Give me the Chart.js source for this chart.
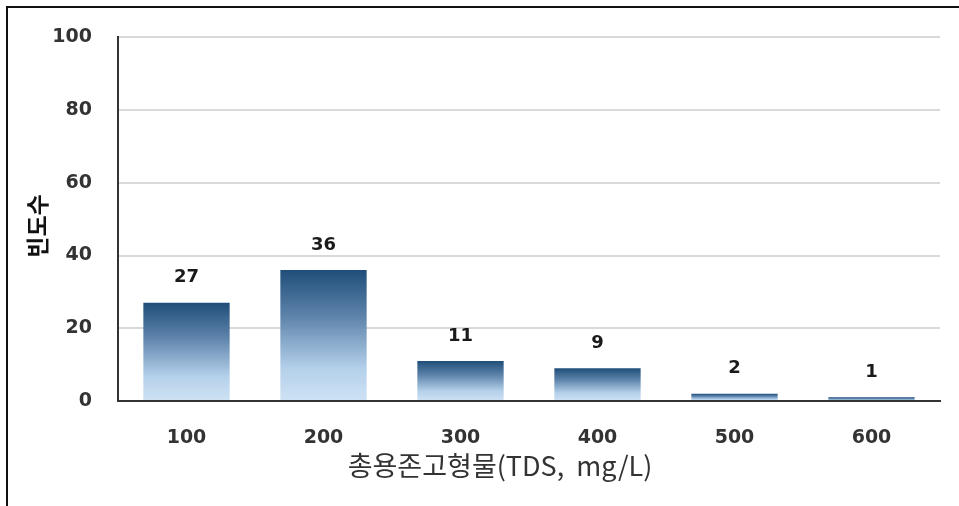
<!DOCTYPE html>
<html>
<head>
<meta charset="utf-8">
<script src="https://cdn.jsdelivr.net/npm/chart.js@4.4.1/dist/chart.umd.min.js"></script>
<style>
  html, body { margin:0; padding:0; background:#fff; }
  #wrap { position:relative; width:959px; height:506px; overflow:hidden; }
  #frame { position:absolute; left:6px; top:6px; width:1000px; height:600px;
           border-top:2px solid #111; border-left:2px solid #111; pointer-events:none; }
</style>
</head>
<body>
<div id="wrap">
  <canvas id="c" width="959" height="506"></canvas>
  <div id="frame"></div>
</div>
<script>
// data
const categories = ['100', '200', '300', '400', '500', '600'];
const counts = [27, 36, 11, 9, 2, 1];
const yTicks = [0, 20, 40, 60, 80, 100];
const xTitle = '총용존고형물(TDS,  mg/L)';
const yTitle = '빈도수';

const tickFont = { family: 'DejaVu Sans', size: 19, weight: 'bold' };

// each bar gets its own dark-to-light gradient
function barFill(ctx) {
  const chart = ctx.chart;
  if (!chart.chartArea) return '#5b84b1';
  const y = chart.scales.y;
  const top = y.getPixelForValue(ctx.raw);
  const bottom = y.getPixelForValue(0);
  if (!isFinite(top) || bottom - top < 1) return '#c5dcf0';
  const g = chart.ctx.createLinearGradient(0, top, 0, bottom);
  g.addColorStop(0, '#1f4e7a');
  g.addColorStop(0.35, '#5d83aa');
  g.addColorStop(0.75, '#b4d0ea');
  g.addColorStop(1, '#cfe2f4');
  return g;
}

// value labels above bars + axis titles (the original sits a bit off-centre)
const extras = {
  id: 'extras',
  afterDatasetsDraw(chart) {
    const c = chart.ctx;
    const meta = chart.getDatasetMeta(0);
    c.save();
    c.font = 'bold 18px "DejaVu Sans"';
    c.fillStyle = '#1a1a1a';
    c.textAlign = 'center';
    c.textBaseline = 'middle';
    meta.data.forEach((bar, i) => {
      c.fillText(String(counts[i]), bar.x, bar.y - 25);
    });

    c.font = '27px "Noto Sans CJK KR"';
    c.fillStyle = '#333';
    c.fillText(xTitle, 500, 466);

    c.translate(37, 226);
    c.rotate(-Math.PI / 2);
    c.font = 'bold 23px "Noto Sans CJK KR"';
    c.fillStyle = '#111';
    c.fillText(yTitle, 0, 0);
    c.restore();
  }
};

new Chart(document.getElementById('c'), {
  type: 'bar',
  data: {
    labels: categories,
    datasets: [{
      data: counts,
      backgroundColor: barFill,
      borderWidth: 0,
      barPercentage: 0.63,
      categoryPercentage: 1
    }]
  },
  options: {
    responsive: false,
    animation: false,
    layout: { padding: { top: 37, right: 19, left: 0, bottom: 0 } },
    plugins: { legend: { display: false }, tooltip: { enabled: false } },
    scales: {
      x: {
        grid: { display: false, drawTicks: false },
        border: { color: '#333', width: 2 },
        ticks: { color: '#333', font: tickFont, padding: 26 },
        afterFit(s) { s.height = 105; }
      },
      y: {
        min: 0, max: 100,
        afterBuildTicks(s) { s.ticks = yTicks.map(v => ({ value: v })); },
        grid: { color: '#d9d9d9', lineWidth: 2, drawTicks: false },
        border: { color: '#333', width: 2 },
        ticks: { color: '#333', font: tickFont, padding: 26 },
        afterFit(s) { s.width = 118; }
      }
    }
  },
  plugins: [extras]
});
</script>
</body>
</html>
